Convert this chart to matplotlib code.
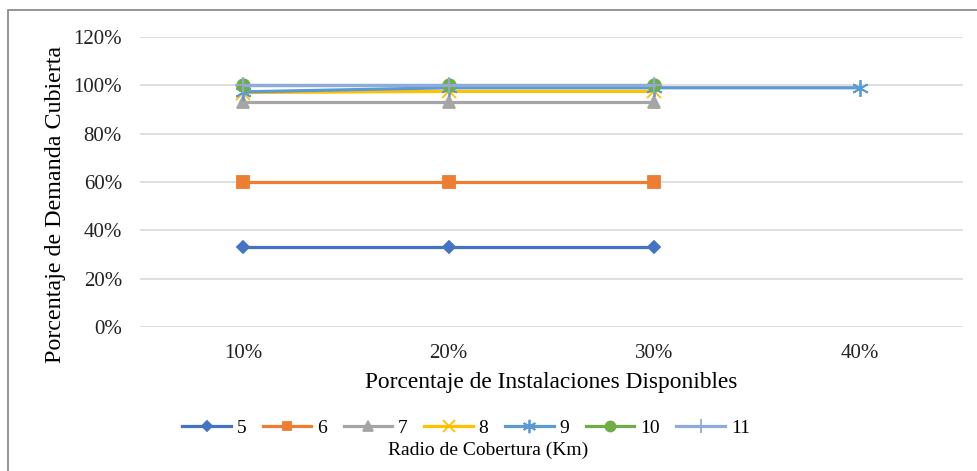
import matplotlib
matplotlib.use("Agg")
import matplotlib.pyplot as plt
from matplotlib.patches import Rectangle
from matplotlib.ticker import FuncFormatter

plt.rcParams['font.family'] = ['Liberation Serif', 'DejaVu Serif']

categories = ["10%", "20%", "30%", "40%"]
series_names = ["5", "6", "7", "8", "9", "10", "11"]
s5 = [0.33, 0.33, 0.33]
s6 = [0.60, 0.60, 0.60]
s7 = [0.933, 0.933, 0.933]
s8 = [0.97, 0.975, 0.975]
s9 = [0.973, 0.99, 0.99, 0.99]
s10 = [1.0, 1.0, 1.0]
s11 = [1.0, 1.0, 1.0]
values = [s5, s6, s7, s8, s9, s10, s11]

colors = ["#4472C4", "#ED7D31", "#A5A5A5", "#FFC000", "#5B9BD5", "#70AD47", "#8FAADC"]
markers = ["D", "s", "^", "x", (6, 2, 0), "o", "+"]
msizes = [6, 8, 9, 10, 12, 9, 12]

fig = plt.figure(figsize=(9.77, 4.71), dpi=100)
ax = fig.add_axes([140/977, 1-327/471, (963-140)/977, (327-37)/471])

for name, vals, c, m, ms in zip(series_names, values, colors, markers, msizes):
    xs = list(range(len(vals)))
    ax.plot(xs, vals, color=c, lw=2.3, marker=m, markersize=ms,
            markeredgecolor=c, markerfacecolor=c, markeredgewidth=1.3, label=name)

ax.set_xlim(-0.5, len(categories) - 0.5)
ax.set_ylim(0, 1.2)
ax.set_xticks(range(len(categories)))
ax.set_xticklabels(categories)
ax.set_yticks([0, 0.2, 0.4, 0.6, 0.8, 1.0, 1.2])
ax.yaxis.set_major_formatter(FuncFormatter(lambda v, p: f"{v*100:.0f}%"))
ax.grid(axis='y', color='#D9D9D9', lw=1.2)
ax.set_axisbelow(True)
for sp in ax.spines.values():
    sp.set_visible(False)
ax.tick_params(length=0, labelsize=15, colors='#222222')
ax.tick_params(axis='x', pad=12)
ax.tick_params(axis='y', pad=13)

ax.set_xlabel("Porcentaje de Instalaciones Disponibles", fontsize=16.8, labelpad=7)
ax.set_ylabel("Porcentaje de Demanda Cubierta", fontsize=17.3, labelpad=7)
ax.yaxis.set_label_coords(-0.09, 0.424)

leg = fig.legend(loc='center', bbox_to_anchor=(466/977, 1-428/471), ncol=7, frameon=False,
                 fontsize=14, handlelength=2.5, columnspacing=0.85, handletextpad=0.3,
                 borderaxespad=0, markerscale=0.8)
fig.text(488/977, 1-450/471, "Radio de Cobertura (Km)", ha='center', va='center', fontsize=14)

fig.patches.append(Rectangle((8/977, -0.1), 1.2, 1 - 10/471 + 0.1, transform=fig.transFigure,
                             fill=False, edgecolor='#8C8C8C', lw=1.3))

fig.savefig("out.png", dpi=100)
